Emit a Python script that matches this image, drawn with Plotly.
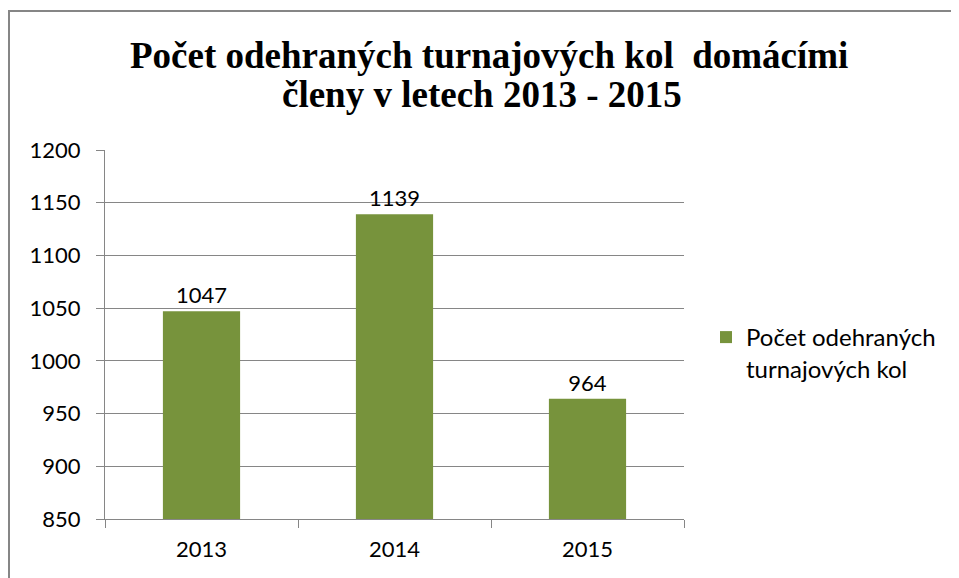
import plotly.graph_objects as go

years = ["2013", "2014", "2015"]
values = [1047, 1139, 964]
series_name = "Počet odehraných<br>turnajových kol"
title_lines = ["Počet odehraných turnajových kol  domácími", "členy v letech 2013 - 2015"]
y_ticks = [850, 900, 950, 1000, 1050, 1100, 1150, 1200]

GRAY = "#868686"
GREEN = "#77933C"
FONT = "Lato, Carlito, 'Liberation Sans', sans-serif"
SERIF = "'Liberation Serif', 'Times New Roman', serif"

# plot-area geometry in figure pixels
L, T, PW, PH = 97, 142, 579, 369
W, H = 959, 578


def px_x(x):
    return (x - L) / PW


def px_y(y):
    return (T + PH - y) / PH


fig = go.Figure()
fig.add_trace(go.Bar(
    x=years, y=values, name=series_name,
    marker=dict(color=GREEN, line=dict(width=0)),
    text=[str(v) for v in values], textposition="outside",
    textfont=dict(family=FONT, size=22, color="#000000"),
    cliponaxis=False, width=0.4, showlegend=True,
))

fig.update_layout(
    width=W, height=H,
    margin=dict(l=L, r=W - L - PW, t=T, b=H - T - PH),
    paper_bgcolor="white", plot_bgcolor="white",
    font=dict(family=FONT, size=22, color="#000000"),
    legend=dict(x=px_x(698), y=px_y(345), xanchor="left", yanchor="middle",
                font=dict(family=FONT, size=24, color="#000000"),
                valign="top", bgcolor="rgba(0,0,0,0)"),
    showlegend=True,
)
fig.update_yaxes(range=[850, 1200], tickvals=y_ticks, showgrid=True, gridcolor=GRAY, gridwidth=1,
                 showline=True, linecolor=GRAY, linewidth=1, ticks="outside", ticklen=8,
                 tickcolor=GRAY, tickfont=dict(family=FONT, size=22), zeroline=False,
                 ticklabelstandoff=11)
fig.update_xaxes(showline=True, linecolor=GRAY, linewidth=1, ticks="outside", ticklen=8,
                 tickcolor=GRAY, tickson="boundaries", tickfont=dict(family=FONT, size=22),
                 showgrid=False, ticklabelstandoff=11)

# title (two lines)
fig.add_annotation(text="<b>" + title_lines[0] + "</b>", xref="paper", yref="paper",
                   x=px_x(481), y=px_y(48), xanchor="center", yanchor="middle", showarrow=False,
                   font=dict(family=SERIF, size=37, color="#000000"))
fig.add_annotation(text="<b>" + title_lines[1] + "</b>", xref="paper", yref="paper",
                   x=px_x(474), y=px_y(87), xanchor="center", yanchor="middle", showarrow=False,
                   font=dict(family=SERIF, size=37, color="#000000"))

# outer chart border
fig.add_shape(type="rect", xref="paper", yref="paper",
              x0=px_x(1), x1=px_x(1000), y0=px_y(700), y1=px_y(3),
              line=dict(color=GRAY, width=2), fillcolor="rgba(0,0,0,0)", layer="below")

fig.write_html("out.html")
